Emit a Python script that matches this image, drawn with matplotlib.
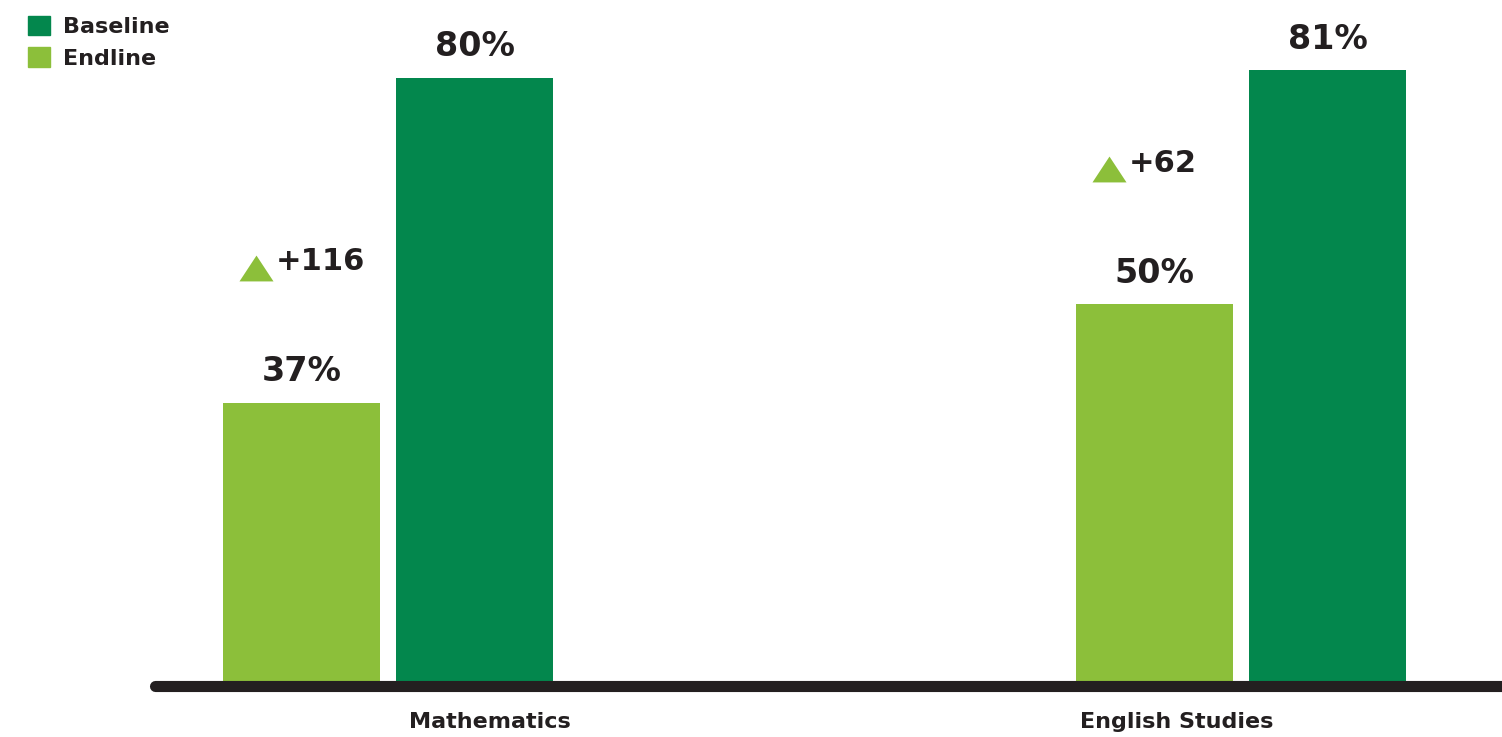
"""
plot.py - Baseline vs Endline scores by subject
"""

import matplotlib
import matplotlib.pyplot as plt
import matplotlib.transforms as mtransforms
from matplotlib.patches import Patch

matplotlib.use("Agg")

SUBJECTS = ["Mathematics", "English Studies"]
ENDLINE = [37, 50]      # light green bars (left)
BASELINE = [80, 81]     # dark green bars (right)
CHANGE = ["+116", "+62"]
LEGEND_LABELS = ["Baseline", "Endline"]

DARK_GREEN = "#03874D"
LIGHT_GREEN = "#8CBF3A"
INK = "#231F20"

plt.rcParams["font.family"] = ["DejaVu Sans"]

fig = plt.figure(figsize=(15.02, 7.37), dpi=100)
ax = fig.add_axes([150 / 1502, 55 / 737, 1352 / 1502, 682 / 737])

x = list(range(len(SUBJECTS)))
width = 0.185
offset = 0.1014
x_light = [i - offset for i in x]
x_dark = [i + offset for i in x]

ax.bar(x_light, ENDLINE, width=width, color=LIGHT_GREEN)
ax.bar(x_dark, BASELINE, width=width, color=DARK_GREEN)

for xs, vals in ((x_light, ENDLINE), (x_dark, BASELINE)):
    for xi, v in zip(xs, vals):
        ax.annotate(f"{v}%", (xi, v), xytext=(0, 31), textcoords="offset pixels",
                    ha="center", va="center", fontsize=24, fontweight="bold", color=INK)

# change markers above the endline bars (flat triangle + number)
tri = [(-0.5, -0.38), (0.5, -0.38), (0.0, 0.38), (-0.5, -0.38)]
tri_trans = mtransforms.offset_copy(ax.transData, fig=fig, x=-45, y=135, units="dots")
ax.plot(x_light, ENDLINE, linestyle="none", marker=tri, markersize=24.5,
        color=LIGHT_GREEN, markeredgewidth=0, transform=tri_trans, clip_on=False)
for xi, v, ch in zip(x_light, ENDLINE, CHANGE):
    ax.annotate(ch, (xi, v), xytext=(-26, 141), textcoords="offset pixels",
                ha="left", va="center", fontsize=22, fontweight="bold", color=INK)

# subject labels (placed as in the original, not centred on groups)
label_x = [0.12, 0.925]
for lx, name in zip(label_x, SUBJECTS):
    ax.text(lx, -40 / 7.55, name, ha="center", va="center", fontsize=16,
            fontweight="bold", color=INK)

# thick rounded baseline
ax.plot([-0.273, 1.32], [-0.55, -0.55], color=INK, lw=8,
        solid_capstyle="round", clip_on=False)

ax.set_xlim(-0.279, 1.306)
ax.set_ylim(0, 90.3)
ax.axis("off")

handles = [Patch(color=DARK_GREEN), Patch(color=LIGHT_GREEN)]
fig.legend(handles, LEGEND_LABELS, loc="upper left", bbox_to_anchor=(0.008, 1.0),
           frameon=False, handlelength=1.0, handleheight=1.0, handletextpad=0.6,
           labelspacing=0.45, borderaxespad=0.3,
           prop={"weight": "bold", "size": 16})
for t in fig.legends[0].get_texts():
    t.set_color(INK)

fig.savefig("out.png", dpi=100)
plt.close(fig)
